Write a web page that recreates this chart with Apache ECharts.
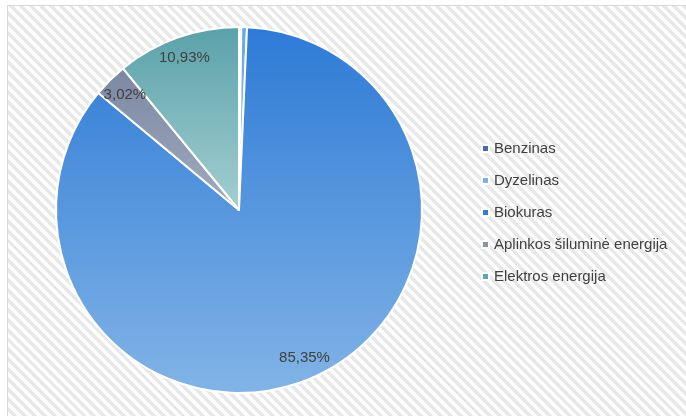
<!DOCTYPE html>
<html>
<head>
<meta charset="utf-8">
<script src="https://cdn.jsdelivr.net/npm/echarts@6/dist/echarts.min.js"></script>
<style>
  html, body { margin: 0; padding: 0; background: #fff; }
  #bg {
    position: absolute; left: 7px; top: 5px; width: 700px; height: 430px;
    border: 1px solid #d9d9d9;
    background: repeating-linear-gradient(45deg, #ffffff 0 3.5px, #e8e8e8 3.5px 7px);
  }
  #main { position: absolute; left: 0; top: 0; width: 686px; height: 416px; }
</style>
</head>
<body>
<div id="bg"></div>
<div id="main"></div>
<script>
	// duomenys
	const names = ['Benzinas', 'Dyzelinas', 'Biokuras', 'Aplinkos šiluminė energija', 'Elektros energija'];
	const values = [0.2, 0.5, 85.35, 3.02, 10.93];
	const labels = ['', '', '85,35%', '3,02%', '10,93%'];

	// spalvos: [virsus, apacia], legendos zenklas
	const grad = [
		['#3f5ea8', '#5f7cc4'],
		['#6aa6e0', '#9cc6ee'],
		['#2d7ad6', '#82b4e6'],
		['#7b87a2', '#a2abc0'],
		['#5aa1a9', '#a4cfd2']
	];
	const legendColors = ['#4b68b4', '#7db2e4', '#2f7dd8', '#8a93ab', '#5ea7ae'];

	function fill (c) {
		return new echarts.graphic.LinearGradient(0, 0, 0, 1, [
			{ offset: 0, color: c[0] },
			{ offset: 1, color: c[1] }
		]);
	}

	const chart = echarts.init(document.getElementById('main'));
	const font = '"Liberation Sans", Arial, sans-serif';

	const option = {
		animation: false,
		legend: {
			orient: 'vertical',
			left: 476,
			top: 135,
			icon: 'rect',
			itemWidth: 7,
			itemHeight: 7,
			itemGap: 15,
			textStyle: { color: '#404040', fontSize: 15, fontFamily: font, lineHeight: 17 },
			data: names.map((n, i) => ({ name: n, itemStyle: { color: legendColors[i] } }))
		},
		series: [
			{
				type: 'pie',
				center: [239, 210],
				radius: [0, 183],
				startAngle: 90,
				silent: true,
				label: { show: false },
				labelLine: { show: false },
				itemStyle: { borderColor: '#fff', borderWidth: 2 },
				data: names.map((n, i) => ({ name: n, value: values[i], itemStyle: { color: fill(grad[i]) } }))
			},
			{
				// tik etiketems
				type: 'pie',
				center: [239, 210],
				radius: [134, 184],
				startAngle: 90,
				silent: true,
				itemStyle: { color: 'rgba(0,0,0,0)' },
				label: {
					show: true,
					position: 'inside',
					color: '#404040',
					fontSize: 15,
					fontFamily: font,
					formatter: p => labels[p.dataIndex]
				},
				labelLine: { show: false },
				data: names.map((n, i) => ({ name: n, value: values[i] }))
			}
		]
	};

	chart.setOption(option);
</script>
</body>
</html>
